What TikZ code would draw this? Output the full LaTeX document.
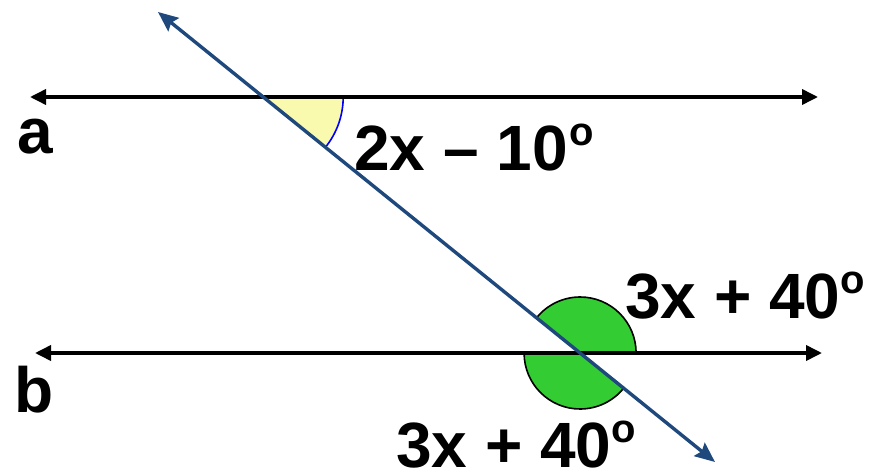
\documentclass[tikz,border=0pt]{standalone}
\usepackage{fontspec}
\setmainfont{Liberation Sans}
\usetikzlibrary{arrows.meta}
\definecolor{tblue}{RGB}{31,73,125}
\definecolor{ayellow}{RGB}{250,250,175}
\definecolor{agreen}{RGB}{51,204,51}
\newcommand{\degsup}{\raisebox{25pt}{\fontsize{40}{40}\selectfont o}}
\begin{document}
\begin{tikzpicture}[x=1pt,y=1pt,
  lbl/.style={anchor=base west, inner sep=0pt, font=\fontsize{64}{64}\selectfont\bfseries},
  parline/.style={line width=3.6pt, black, {Triangle[length=16pt,width=15pt]}-{Triangle[length=16pt,width=15pt]}},
  transline/.style={line width=3.4pt, tblue, {Stealth[length=20pt,width=17pt,inset=3pt]}-{Stealth[length=20pt,width=17pt,inset=3pt]}},
  arcline/.style={line width=1.6pt}]
\useasboundingbox (0,0) rectangle (872,475);
% key points
\coordinate (a1) at (30,378);
\coordinate (a2) at (818,378);
\coordinate (b1) at (35,122);
\coordinate (b2) at (822,122);
\coordinate (T1) at (158,463);
\coordinate (T2) at (715,13);
\coordinate (A) at (263.2,378);
\coordinate (B) at (580.1,122);
% yellow angle
\fill[ayellow] (A) -- ([shift={(-38.93:80pt)}]A) arc[start angle=-38.93, end angle=0, radius=80pt] -- cycle;
\draw[arcline, blue] ([shift={(-38.93:80pt)}]A) arc[start angle=-38.93, end angle=0, radius=80pt];
% green angles
\filldraw[fill=agreen, draw=black, arcline] (B) -- ([shift={(0:56pt)}]B) arc[start angle=0, end angle=141.07, radius=56pt] -- cycle;
\filldraw[fill=agreen, draw=black, arcline] (B) -- ([shift={(180:56pt)}]B) arc[start angle=180, end angle=321.07, radius=56pt] -- cycle;
% lines
\draw[parline] (a1) -- (a2);
\draw[parline] (b1) -- (b2);
\draw[transline] (T1) -- (T2);
% labels
\node[lbl] (la) at (17,322) {a};
\node[lbl] (lb) at (14,63) {b};
\node[lbl] (l1) at (354,305) {2x – 10\hspace{2pt}\degsup};
\node[lbl] (l2) at (625,157) {3x + 40\degsup};
\node[lbl] (l3) at (396,8) {3x + 40\degsup};
\end{tikzpicture}
\end{document}
